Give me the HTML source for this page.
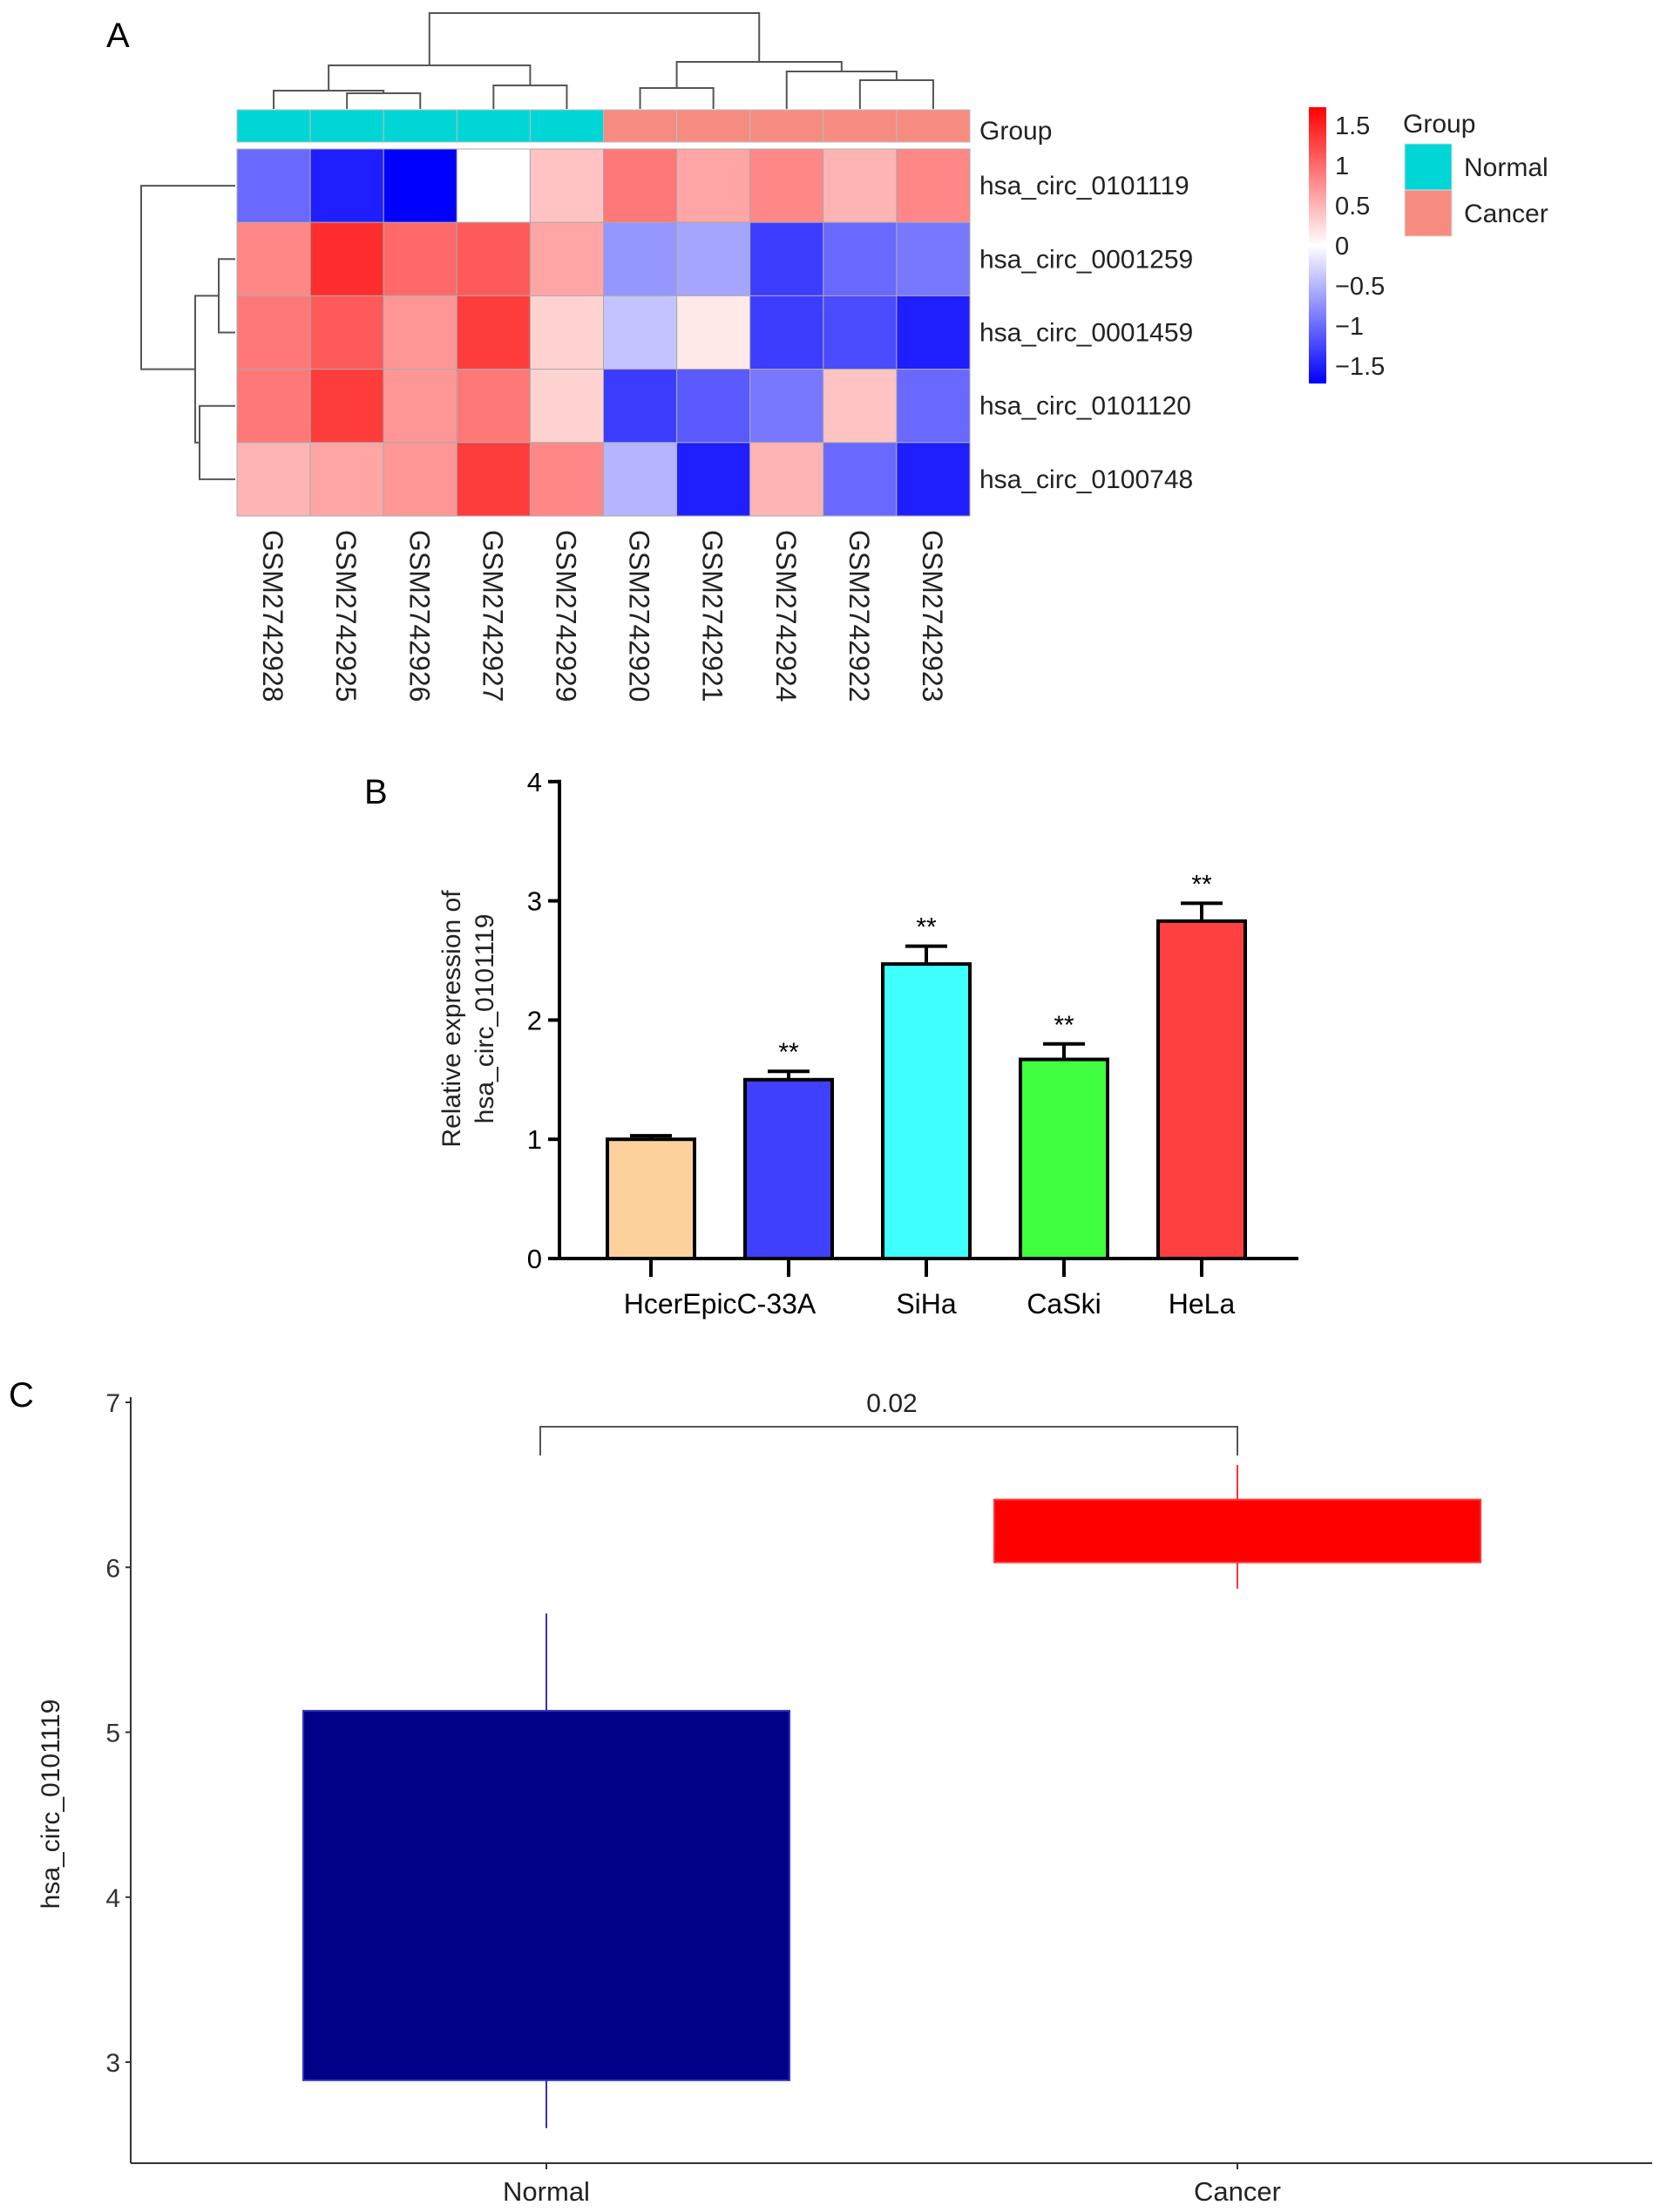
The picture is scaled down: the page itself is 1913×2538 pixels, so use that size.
<!DOCTYPE html>
<html><head><meta charset="utf-8"><style>
html,body{margin:0;padding:0;background:#fff}
svg{display:block;font-family:"Liberation Sans",sans-serif}
</style></head><body>
<svg id="fig" width="1913" height="2538" viewBox="0 0 1913 2538">
<g id="pa"></g>
<g id="pb"></g>
<g id="pc"></g>
</svg>
<script>
// ---- Panel A data ----
const samples=["GSM2742928","GSM2742925","GSM2742926","GSM2742927","GSM2742929","GSM2742920","GSM2742921","GSM2742924","GSM2742922","GSM2742923"];
const sampleGroups=["Normal","Normal","Normal","Normal","Normal","Cancer","Cancer","Cancer","Cancer","Cancer"];
const genes=["hsa_circ_0101119","hsa_circ_0001259","hsa_circ_0001459","hsa_circ_0101120","hsa_circ_0100748"];
const row0=[-1.0,-1.5,-1.7,0,0.4,0.9,0.6,0.8,0.5,0.8];
const row1=[0.8,1.4,1.0,1.1,0.6,-0.7,-0.6,-1.3,-1.0,-0.9];
const row2=[0.9,1.1,0.7,1.3,0.3,-0.4,0.15,-1.3,-1.2,-1.5];
const row3=[0.9,1.3,0.7,0.9,0.3,-1.3,-1.1,-0.9,0.4,-1.0];
const row4=[0.5,0.6,0.7,1.3,0.8,-0.5,-1.5,0.5,-1.0,-1.5];
const heatRows=[row0,row1,row2,row3,row4];
const scaleTicks=[1.5,1,0.5,0,-0.5,-1,-1.5];
// ---- Panel B data ----
const cellLines=["HcerEpic","C-33A","SiHa","CaSki","HeLa"];
const barValues=[1.0,1.5,2.47,1.67,2.83];
const barErrors=[0.03,0.07,0.15,0.13,0.15];
const barStars=["","**","**","**","**"];
const bTicks=[0,1,2,3,4];
// ---- Panel C data ----
const boxGroups=["Normal","Cancer"];
const boxQ1=[2.89,6.03];
const boxQ3=[5.13,6.41];
const boxMin=[2.6,5.87];
const boxMax=[5.72,6.62];
const cTicks=[3,4,5,6,7];
const pValue="0.02";

const NS="http://www.w3.org/2000/svg";
function mk(parent,tag,attrs,text){const e=document.createElementNS(NS,tag);for(const k in attrs)e.setAttribute(k,attrs[k]);if(text!==undefined)e.textContent=text;parent.appendChild(e);return e;}
function col(v){let t=Math.max(-1,Math.min(1,v/1.7));if(t>=0){const c=Math.round(255*(1-t));return `rgb(255,${c},${c})`;}const c=Math.round(255*(1+t));return `rgb(${c},${c},255)`;}

// ===== Panel A =====
const A=document.getElementById('pa');
let t=mk(A,'text',{x:122,y:54,'font-size':40},'A');


const hx0=272,cw=84.1,hy0=171,rh=84.2;
const cx=i=>hx0+cw*(i+0.5), ry=j=>hy0+rh*(j+0.5);
samples.forEach((s,i)=>{
  const r=mk(A,'rect',{x:hx0+cw*i,y:126,width:cw,height:37,fill:sampleGroups[i]==="Normal"?"#00D6D6":"#F68C80",stroke:"#bbb","stroke-width":1});
  
  
  const l=mk(A,'text',{transform:`translate(${cx(i)-12},608) rotate(90)`,'font-size':32,fill:'#222'},s);
  
  
});
t=mk(A,'text',{x:1124,y:160,'font-size':30,fill:'#222'},'Group');


heatRows.forEach((row,j)=>{
  row.forEach((v,i)=>{
    const r=mk(A,'rect',{x:hx0+cw*i,y:hy0+rh*j,width:cw,height:rh,fill:col(v),stroke:"#aaa","stroke-width":1});
    
    
  });
  const l=mk(A,'text',{x:1124,y:ry(j)+10,'font-size':30,fill:'#222'},genes[j]);
  
  
});
function seg(p,pts,name){const e=mk(p,'polyline',{points:pts.map(q=>q.join(',')).join(' '),fill:'none',stroke:'#555','stroke-width':2});}
const lb=125;
const m56=(cx(1)+cx(2))/2;
seg(A,[[cx(1),lb],[cx(1),107],[cx(2),107],[cx(2),lb]],'col-dendro-branch');
const m456=(cx(0)+m56)/2;
seg(A,[[cx(0),lb],[cx(0),104],[m56,104],[m56,107]],'col-dendro-branch');
seg(A,[[cx(3),lb],[cx(3),98],[cx(4),98],[cx(4),lb]],'col-dendro-branch');
const m79=(cx(3)+cx(4))/2;
const mL=(m456+m79)/2;
seg(A,[[m456,104],[m456,75],[m79,75],[m79,98]],'col-dendro-branch');
seg(A,[[cx(5),lb],[cx(5),101],[cx(6),101],[cx(6),lb]],'col-dendro-branch');
seg(A,[[cx(8),lb],[cx(8),92],[cx(9),92],[cx(9),lb]],'col-dendro-branch');
const m23=(cx(8)+cx(9))/2;
seg(A,[[cx(7),lb],[cx(7),82],[m23,82],[m23,92]],'col-dendro-branch');
const m01=(cx(5)+cx(6))/2, m423=(cx(7)+m23)/2;
seg(A,[[m01,101],[m01,71],[m423,71],[m423,82]],'col-dendro-branch');
const mR=(m01+m423)/2;
seg(A,[[mL,75],[mL,15],[mR,15],[mR,71]],'col-dendro-root');
const rl=270;
seg(A,[[rl,ry(1)],[251,ry(1)],[251,ry(2)],[rl,ry(2)]],'row-dendro-branch');
seg(A,[[rl,ry(3)],[229,ry(3)],[229,ry(4)],[rl,ry(4)]],'row-dendro-branch');
const r12=(ry(1)+ry(2))/2,r34=(ry(3)+ry(4))/2,rr=(r12+r34)/2;
seg(A,[[251,r12],[224,r12],[224,r34],[229,r34]],'row-dendro-branch');
seg(A,[[rl,ry(0)],[162,ry(0)],[162,rr],[224,rr]],'row-dendro-root');
const defs=mk(A,'defs',{});
const g=mk(defs,'linearGradient',{id:'cb',x1:0,y1:0,x2:0,y2:1});
[[0,'#ff0000'],[0.5,'#ffffff'],[1,'#0000ff']].forEach(s=>mk(g,'stop',{offset:s[0],'stop-color':s[1]}));
const cbTop=123,cbBot=440;
t=mk(A,'rect',{x:1502,y:cbTop,width:20,height:cbBot-cbTop,fill:'url(#cb)'});


const cby=v=>144+(1.5-v)/3*(420-144);
scaleTicks.forEach(v=>{
  const l=mk(A,'text',{x:1532,y:cby(v)+10,'font-size':29,fill:'#222'},v<0?'\u2212'+Math.abs(v):String(v));
  
  
});
t=mk(A,'text',{x:1610,y:152,'font-size':30,fill:'#222'},'Group');


[["Normal","#00D6D6",165],["Cancer","#F68C80",218]].forEach(e=>{
  const r=mk(A,'rect',{x:1612,y:e[2],width:54,height:53,fill:e[1],stroke:'#ddd'});
  
  
  const l=mk(A,'text',{x:1680,y:e[2]+37,'font-size':30,fill:'#222'},e[0]);
  
  
});

// ===== Panel B =====
const B=document.getElementById('pb');
t=mk(B,'text',{x:418,y:922,'font-size':40},'B');


const bx0=642,by0=1444,bUnit=136.8;
const byS=v=>by0-v*bUnit;
const bxS=i=>747+i*158;
const barColors=["#FDD19B","#4040FF","#40FFFF","#40FF40","#FF4040"];
t=mk(B,'line',{x1:bx0,y1:byS(4)-2,x2:bx0,y2:by0+2,stroke:'#000','stroke-width':4});


t=mk(B,'line',{x1:bx0-2,y1:by0,x2:1490,y2:by0,stroke:'#000','stroke-width':4});


bTicks.forEach(v=>{
  const tk=mk(B,'line',{x1:bx0-13,y1:byS(v),x2:bx0,y2:byS(v),stroke:'#000','stroke-width':4});
  
  
  const l=mk(B,'text',{x:bx0-20,y:byS(v)+11,'font-size':31,'text-anchor':'end'},String(v));
  
  
});
barValues.forEach((v,i)=>{
  const x=bxS(i),w=100,top=byS(v),e=byS(v+barErrors[i]);
  const eb=mk(B,'polyline',{points:`${x},${top} ${x},${e}`,stroke:'#000','stroke-width':4,fill:'none'});
  
  
  const cap=mk(B,'line',{x1:x-24,y1:e,x2:x+24,y2:e,stroke:'#000','stroke-width':4});
  
  
  const r=mk(B,'rect',{x:x-w/2,y:top,width:w,height:by0-top,fill:barColors[i],stroke:'#000','stroke-width':4});
  
  
  const tk=mk(B,'line',{x1:x,y1:by0,x2:x,y2:by0+21,stroke:'#000','stroke-width':4});
  
  
  if(barStars[i]){const s=mk(B,'text',{x:x,y:e-12,'font-size':30,'text-anchor':'middle'},barStars[i]);
    
    }
});
t=mk(B,'text',{x:(bxS(0)+bxS(1))/2,y:1507,'font-size':32,'text-anchor':'middle'},'HcerEpicC-33A');


[2,3,4].forEach(i=>{const l=mk(B,'text',{x:bxS(i),y:1507,'font-size':32,'text-anchor':'middle'},cellLines[i]);
  
  });
t=mk(B,'text',{transform:'translate(528,1169) rotate(-90)','font-size':30,'text-anchor':'middle',fill:'#222'},'Relative expression of');


t=mk(B,'text',{transform:'translate(566,1169) rotate(-90)','font-size':30,'text-anchor':'middle',fill:'#222'},'hsa_circ_0101119');



// ===== Panel C =====
const C=document.getElementById('pc');
t=mk(C,'text',{x:10,y:1614,'font-size':40},'C');


const cx0=150,cyB=2482,cUnit=189.25;
const cyS=v=>1609+(7-v)*cUnit;
const cxS=i=>627+i*793;
const boxFill=["#000088","#FF0000"];
const boxLine=["#3333bb","#ff3333"];
t=mk(C,'line',{x1:cx0,y1:1603,x2:cx0,y2:cyB,stroke:'#333','stroke-width':2});


t=mk(C,'line',{x1:cx0,y1:cyB,x2:1896,y2:cyB,stroke:'#333','stroke-width':2});


cTicks.forEach(v=>{
  const tk=mk(C,'line',{x1:cx0-6,y1:cyS(v),x2:cx0,y2:cyS(v),stroke:'#333','stroke-width':2});
  
  
  const l=mk(C,'text',{x:cx0-12,y:cyS(v)+11,'font-size':30,'text-anchor':'end',fill:'#333'},String(v));
  
  
});
boxGroups.forEach((gname,i)=>{
  const x=cxS(i),hw=279;
  const wk=mk(C,'line',{x1:x,y1:cyS(boxMax[i]),x2:x,y2:cyS(boxMin[i]),stroke:boxLine[i],'stroke-width':2});
  
  
  const r=mk(C,'rect',{x:x-hw,y:cyS(boxQ3[i]),width:2*hw,height:cyS(boxQ1[i])-cyS(boxQ3[i]),fill:boxFill[i],stroke:boxLine[i],'stroke-width':2});
  
  
  const tk=mk(C,'line',{x1:x,y1:cyB,x2:x,y2:cyB+7,stroke:'#333','stroke-width':2});
  
  
  const l=mk(C,'text',{x:x,y:2525,'font-size':31,'text-anchor':'middle',fill:'#222'},gname);
  
  
});
t=mk(C,'polyline',{points:`${cxS(0)-7},1670 ${cxS(0)-7},1637 ${cxS(1)},1637 ${cxS(1)},1670`,fill:'none',stroke:'#555','stroke-width':2});


t=mk(C,'text',{x:(cxS(0)+cxS(1))/2,y:1620,'font-size':30,'text-anchor':'middle',fill:'#222'},pValue);


t=mk(C,'text',{transform:'translate(68,2070) rotate(-90)','font-size':30,'text-anchor':'middle',fill:'#222'},'hsa_circ_0101119');


</script>
</body></html>
